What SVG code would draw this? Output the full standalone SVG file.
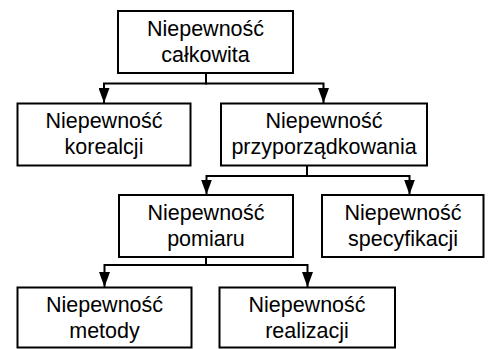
<svg xmlns="http://www.w3.org/2000/svg" width="491" height="349" viewBox="0 0 491 349">
<style>
.box{fill:#fff;stroke:#000;stroke-width:2}
.t{font-family:"Liberation Sans",Arial,sans-serif;font-size:21.5px;fill:#000;text-anchor:middle}
.c{fill:none;stroke:#000;stroke-width:2;marker-end:url(#ah)}
</style>
<defs>
<marker id="ah" viewBox="0 0 15 11" refX="15" refY="5.5" markerWidth="15" markerHeight="11" markerUnits="userSpaceOnUse" orient="auto">
<path d="M0,0 L15,5.5 L0,11 z" fill="#000"/>
</marker>
</defs>
<rect width="491" height="349" fill="#fff"/>
<g id="connectors">
<path class="c" d="M206,73 V83.5 H104 V103"/>
<path class="c" d="M206,73 V83.5 H323.5 V103"/>
<path class="c" d="M307,166 V176 H206.5 V194.5"/>
<path class="c" d="M307,166 V176 H409.5 V194.5"/>
<path class="c" d="M206,257.5 V265 H104.5 V287"/>
<path class="c" d="M206,257.5 V265 H307.5 V287"/>
</g>
<g id="n-calkowita">
<rect class="box" x="118" y="11" width="175" height="62"/>
<text class="t" x="205.5" y="36">Niepewność</text>
<text class="t" x="205.5" y="62">całkowita</text>
</g>
<g id="n-korealcji">
<rect class="box" x="17.5" y="103.5" width="173" height="62"/>
<text class="t" x="104" y="128">Niepewność</text>
<text class="t" x="104" y="154">korealcji</text>
</g>
<g id="n-przyporzadkowania">
<rect class="box" x="221" y="103.5" width="206" height="62"/>
<text class="t" x="324" y="128">Niepewność</text>
<text class="t" x="324" y="154">przyporządkowania</text>
</g>
<g id="n-pomiaru">
<rect class="box" x="119" y="195" width="174" height="62"/>
<text class="t" x="206" y="220">Niepewność</text>
<text class="t" x="206" y="246">pomiaru</text>
</g>
<g id="n-specyfikacji">
<rect class="box" x="322" y="195" width="161.5" height="62"/>
<text class="t" x="403" y="220">Niepewność</text>
<text class="t" x="403" y="246">specyfikacji</text>
</g>
<g id="n-metody">
<rect class="box" x="17.5" y="287.5" width="174" height="60"/>
<text class="t" x="104.5" y="312">Niepewność</text>
<text class="t" x="104.5" y="338">metody</text>
</g>
<g id="n-realizacji">
<rect class="box" x="219.5" y="287.5" width="175.5" height="60"/>
<text class="t" x="307" y="312">Niepewność</text>
<text class="t" x="307" y="338">realizacji</text>
</g>
</svg>
